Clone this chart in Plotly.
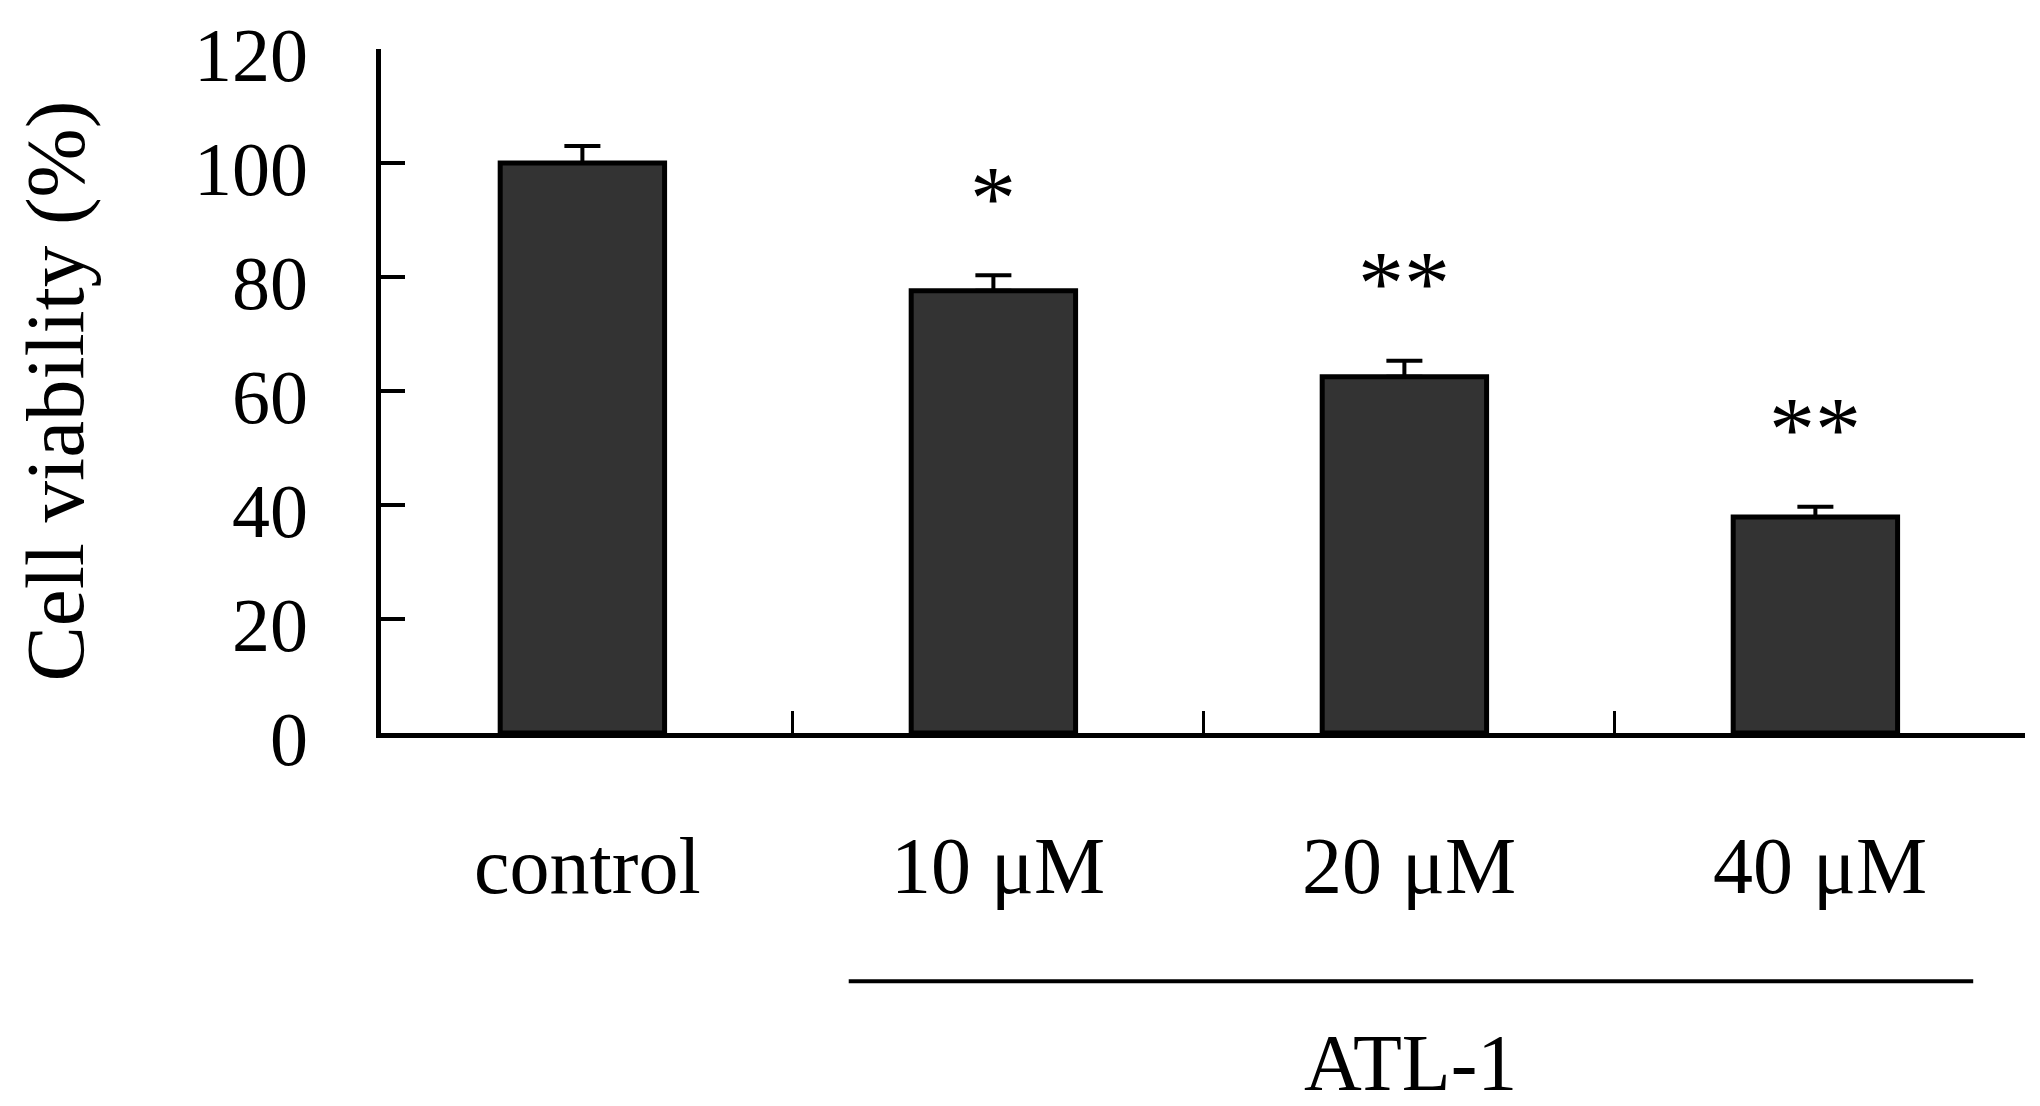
import plotly.graph_objects as go

categories = ["control", "10 μM", "20 μM", "40 μM"]
values = [100.0, 77.6, 62.5, 37.9]
errors = [3.0, 2.7, 2.8, 1.8]
significance = ["", "*", "**", "**"]
y_ticks = [0, 20, 40, 60, 80, 100, 120]
group_label = "ATL-1"
y_title = "Cell viability (%)"

FONT = "Liberation Serif"
W, H = 2040, 1106
ML, MR, MT, MB = 373, 23, 41, 381

x_pos = list(range(len(categories)))
x_range = [-0.49, len(categories) - 0.49]
boundaries = [i + 0.51 for i in x_pos]
bracket = [0.648, 3.384]

fig = go.Figure()
fig.add_trace(go.Bar(
    x=x_pos, y=values, width=0.4,
    marker=dict(color="#333333", line=dict(color="#000000", width=5)),
    error_y=dict(type="data", symmetric=False, array=errors,
                 arrayminus=[0] * len(errors), color="#000000",
                 thickness=4, width=18),
    showlegend=False,
))

# y tick labels (slightly below their ticks, as in the reference)
for t in y_ticks:
    fig.add_annotation(x=0, y=t, xref="paper", yref="y", text=str(t),
                       showarrow=False, xanchor="right", yanchor="middle",
                       xshift=-71, yshift=-6,
                       font=dict(family=FONT, size=76, color="black"))

# category labels
for xi, lab in zip(x_pos, categories):
    fig.add_annotation(x=xi, y=-0.195, xref="x", yref="paper", text=lab,
                       showarrow=False, xshift=5,
                       font=dict(family=FONT, size=80, color="black"),
                       xanchor="center", yanchor="middle")

# significance marks
for xi, v, e, s in zip(x_pos, values, errors, significance):
    if s:
        fig.add_annotation(x=xi, y=v + e + 15, xref="x", yref="y", text=s,
                           showarrow=False, yshift=-8,
                           font=dict(family=FONT, size=92, color="black"),
                           xanchor="center", yanchor="middle")

# group bracket line and label
fig.add_shape(type="line", xref="x", yref="paper", x0=bracket[0], x1=bracket[1],
              y0=-0.363, y1=-0.363, line=dict(color="black", width=4))
fig.add_annotation(x=sum(bracket) / 2, y=-0.483, xref="x", yref="paper", text=group_label,
                   showarrow=False, font=dict(family=FONT, size=80, color="black"),
                   xanchor="center", yanchor="middle")

# y-axis title
fig.add_annotation(x=-0.198, y=0.5, xref="paper", yref="paper", text=y_title,
                   textangle=-90, showarrow=False,
                   font=dict(family=FONT, size=83, color="black"),
                   xanchor="center", yanchor="middle")

fig.update_layout(
    width=W, height=H,
    margin=dict(l=ML, r=MR, t=MT, b=MB, pad=0),
    plot_bgcolor="white", paper_bgcolor="white",
)
fig.update_xaxes(
    range=x_range, showgrid=False, zeroline=False, automargin=False,
    showline=True, linecolor="black", linewidth=5,
    tickmode="array", tickvals=boundaries, ticktext=[""] * len(boundaries),
    ticks="inside", ticklen=22, tickwidth=3, tickcolor="black",
)
fig.update_yaxes(
    range=[0, 120.02], showgrid=False, zeroline=False, automargin=False,
    showline=True, linecolor="black", linewidth=5,
    tickmode="array", tickvals=y_ticks, showticklabels=False,
    ticks="inside", ticklen=24, tickwidth=4, tickcolor="black",
)

fig.write_html("out.html")
